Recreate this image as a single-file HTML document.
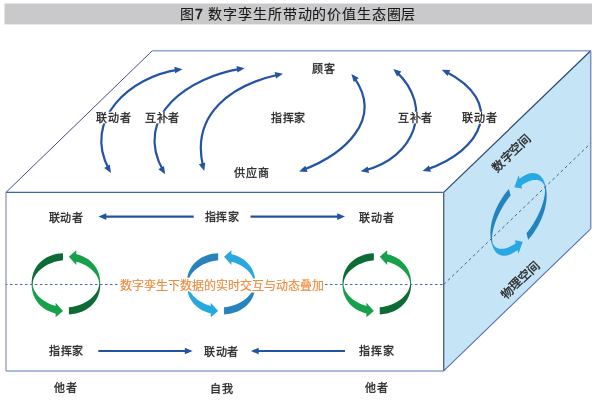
<!DOCTYPE html>
<html lang="zh-CN"><head><meta charset="utf-8"><title>图7</title>
<style>
html,body{margin:0;padding:0;background:#fff;}
body{width:600px;height:401px;overflow:hidden;position:relative;font-family:"Liberation Sans",sans-serif;}
svg{position:absolute;left:0;top:0;display:block;will-change:transform;}
text{font-family:"Liberation Sans",sans-serif;}
</style></head><body>
<svg width="600" height="401" viewBox="0 0 600 401">
<defs><linearGradient id="gg" gradientUnits="userSpaceOnUse" x1="0" y1="-31" x2="0" y2="31"><stop offset="0" stop-color="#0e6b36"/><stop offset="0.5" stop-color="#0e6b36"/><stop offset="0.5" stop-color="#17a04b"/><stop offset="1" stop-color="#17a04b"/></linearGradient><linearGradient id="gb" gradientUnits="userSpaceOnUse" x1="0" y1="-31" x2="0" y2="31"><stop offset="0" stop-color="#2883bc"/><stop offset="0.5" stop-color="#2883bc"/><stop offset="0.5" stop-color="#29a7df"/><stop offset="1" stop-color="#29a7df"/></linearGradient><linearGradient id="gb2" gradientUnits="userSpaceOnUse" x1="0" y1="-31" x2="0" y2="31"><stop offset="0" stop-color="#2383bd"/><stop offset="0.5" stop-color="#2383bd"/><stop offset="0.5" stop-color="#28a8e2"/><stop offset="1" stop-color="#28a8e2"/></linearGradient></defs>
<rect x="4.5" y="3.5" width="587.5" height="20.9" fill="#c9c9cb"/>
<polygon points="443.7,192.4 590.7,50.8 590.7,228.8 443.7,370.9" fill="#c5e4f6"/>
<line x1="6.00" y1="192.40" x2="152.20" y2="50.80" stroke="#3f4f78" stroke-width="1.00"/>
<line x1="152.20" y1="50.80" x2="590.70" y2="50.80" stroke="#8ea6d4" stroke-width="1.50"/>
<line x1="443.70" y1="192.40" x2="590.70" y2="50.80" stroke="#2f4a7e" stroke-width="1.30"/>
<line x1="590.70" y1="50.80" x2="590.70" y2="228.80" stroke="#7d93be" stroke-width="1.50"/>
<line x1="443.70" y1="370.90" x2="590.70" y2="228.80" stroke="#5672ac" stroke-width="1.10"/>
<line x1="6.00" y1="192.40" x2="6.00" y2="370.90" stroke="#a0a6b4" stroke-width="1.50"/>
<line x1="6.00" y1="370.90" x2="443.70" y2="370.90" stroke="#8ea4d4" stroke-width="1.50"/>
<line x1="443.70" y1="192.40" x2="443.70" y2="370.90" stroke="#4f6690" stroke-width="1.40"/>
<line x1="6.00" y1="192.40" x2="443.70" y2="192.40" stroke="#3a64b4" stroke-width="1.30"/>
<path d="M109.00,169.49 C82.25,119.65 129.79,76.91 178.51,69.71" fill="none" stroke="#2553a3" stroke-width="2.20"/><polygon points="182.50,69.20 175.10,73.31 174.39,66.75" fill="#2553a3"/><polygon points="111.00,173.00 104.14,168.03 109.80,164.62" fill="#2553a3"/>
<path d="M163.18,170.84 C132.12,114.74 190.72,76.51 240.72,68.85" fill="none" stroke="#2553a3" stroke-width="2.20"/><polygon points="244.70,68.30 237.36,72.52 236.56,65.97" fill="#2553a3"/><polygon points="165.20,174.30 158.31,169.37 163.94,165.92" fill="#2553a3"/>
<path d="M203.18,166.99 C190.42,113.70 231.73,84.94 279.07,74.52" fill="none" stroke="#2553a3" stroke-width="2.20"/><polygon points="283.00,73.70 275.99,78.45 274.71,71.97" fill="#2553a3"/><polygon points="204.20,170.90 198.90,164.29 205.25,162.50" fill="#2553a3"/>
<path d="M353.81,77.10 C384.75,120.32 342.83,154.60 302.86,170.00" fill="none" stroke="#2553a3" stroke-width="2.20"/><polygon points="299.10,171.40 305.34,165.67 307.56,171.88" fill="#2553a3"/><polygon points="351.40,73.90 358.83,77.97 353.65,82.06" fill="#2553a3"/>
<path d="M396.29,71.59 C434.80,107.81 414.05,158.13 364.62,170.42" fill="none" stroke="#2553a3" stroke-width="2.20"/><polygon points="360.70,171.30 367.69,166.52 369.00,172.99" fill="#2553a3"/><polygon points="393.30,68.90 401.37,71.46 397.08,76.48" fill="#2553a3"/>
<path d="M445.41,71.46 C506.17,102.20 482.59,150.47 426.33,169.66" fill="none" stroke="#2553a3" stroke-width="2.20"/><polygon points="422.50,170.90 428.98,165.44 430.93,171.75" fill="#2553a3"/><polygon points="441.80,69.70 450.26,70.03 447.46,76.00" fill="#2553a3"/>
<line x1="193.70" y1="216.60" x2="102.50" y2="216.60" stroke="#2553a3" stroke-width="2.20"/><polygon points="98.50,216.60 106.30,213.30 106.30,219.90" fill="#2553a3"/>
<line x1="250.50" y1="216.60" x2="341.00" y2="216.60" stroke="#2553a3" stroke-width="2.20"/><polygon points="345.00,216.60 337.20,219.90 337.20,213.30" fill="#2553a3"/>
<line x1="98.30" y1="351.00" x2="188.60" y2="351.00" stroke="#2553a3" stroke-width="2.20"/><polygon points="192.60,351.00 184.80,354.30 184.80,347.70" fill="#2553a3"/>
<line x1="345.00" y1="351.00" x2="254.90" y2="351.00" stroke="#2553a3" stroke-width="2.20"/><polygon points="250.90,351.00 258.70,347.70 258.70,354.30" fill="#2553a3"/>
<g transform="translate(65.95,283.80)"><path d="M-2.95,-30.64 L-6.67,-30.30 L-10.15,-29.69 L-13.44,-28.80 L-16.53,-27.64 L-19.43,-26.22 L-22.12,-24.55 L-24.58,-22.65 L-26.79,-20.52 L-28.75,-18.19 L-30.43,-15.66 L-31.82,-12.95 L-32.92,-10.06 L-33.71,-7.01 L-34.19,-3.77 L-34.36,-0.15 L-34.21,3.57 L-33.75,6.82 L-32.97,9.88 L-31.90,12.78 L-30.52,15.50 L-28.86,18.04 L-26.92,20.39 L-24.72,22.53 L-22.28,24.45 L-19.60,26.13 L-16.71,27.56 L-13.63,28.73 L-10.35,29.64 L-10.35,33.50 L-2.95,27.15 L-10.35,18.85 L-10.35,22.16 L-13.30,21.23 L-16.17,20.10 L-18.91,18.76 L-21.49,17.26 L-23.88,15.59 L-26.04,13.77 L-27.96,11.84 L-29.61,9.82 L-30.97,7.73 L-32.02,5.60 L-32.76,3.48 L-33.18,1.41 L-33.26,-0.42 L-33.01,-2.40 L-32.44,-4.51 L-31.55,-6.64 L-30.34,-8.75 L-28.84,-10.81 L-27.06,-12.80 L-25.02,-14.67 L-22.74,-16.42 L-20.26,-18.01 L-17.60,-19.44 L-14.79,-20.67 L-11.87,-21.71 L-8.89,-22.53 L-5.90,-23.14 L-2.95,-23.51 Z" fill="url(#gg)"/><path d="M-2.95,-30.64 L-6.67,-30.30 L-10.15,-29.69 L-13.44,-28.80 L-16.53,-27.64 L-19.43,-26.22 L-22.12,-24.55 L-24.58,-22.65 L-26.79,-20.52 L-28.75,-18.19 L-30.43,-15.66 L-31.82,-12.95 L-32.92,-10.06 L-33.71,-7.01 L-34.19,-3.77 L-34.36,-0.15 L-34.21,3.57 L-33.75,6.82 L-32.97,9.88 L-31.90,12.78 L-30.52,15.50 L-28.86,18.04 L-26.92,20.39 L-24.72,22.53 L-22.28,24.45 L-19.60,26.13 L-16.71,27.56 L-13.63,28.73 L-10.35,29.64 L-10.35,33.50 L-2.95,27.15 L-10.35,18.85 L-10.35,22.16 L-13.30,21.23 L-16.17,20.10 L-18.91,18.76 L-21.49,17.26 L-23.88,15.59 L-26.04,13.77 L-27.96,11.84 L-29.61,9.82 L-30.97,7.73 L-32.02,5.60 L-32.76,3.48 L-33.18,1.41 L-33.26,-0.42 L-33.01,-2.40 L-32.44,-4.51 L-31.55,-6.64 L-30.34,-8.75 L-28.84,-10.81 L-27.06,-12.80 L-25.02,-14.67 L-22.74,-16.42 L-20.26,-18.01 L-17.60,-19.44 L-14.79,-20.67 L-11.87,-21.71 L-8.89,-22.53 L-5.90,-23.14 L-2.95,-23.51 Z" fill="url(#gg)" transform="rotate(180)"/></g>
<g transform="translate(221.10,283.80)"><path d="M-2.95,-30.64 L-6.67,-30.30 L-10.15,-29.69 L-13.44,-28.80 L-16.53,-27.64 L-19.43,-26.22 L-22.12,-24.55 L-24.58,-22.65 L-26.79,-20.52 L-28.75,-18.19 L-30.43,-15.66 L-31.82,-12.95 L-32.92,-10.06 L-33.71,-7.01 L-34.19,-3.77 L-34.36,-0.15 L-34.21,3.57 L-33.75,6.82 L-32.97,9.88 L-31.90,12.78 L-30.52,15.50 L-28.86,18.04 L-26.92,20.39 L-24.72,22.53 L-22.28,24.45 L-19.60,26.13 L-16.71,27.56 L-13.63,28.73 L-10.35,29.64 L-10.35,33.50 L-2.95,27.15 L-10.35,18.85 L-10.35,22.16 L-13.30,21.23 L-16.17,20.10 L-18.91,18.76 L-21.49,17.26 L-23.88,15.59 L-26.04,13.77 L-27.96,11.84 L-29.61,9.82 L-30.97,7.73 L-32.02,5.60 L-32.76,3.48 L-33.18,1.41 L-33.26,-0.42 L-33.01,-2.40 L-32.44,-4.51 L-31.55,-6.64 L-30.34,-8.75 L-28.84,-10.81 L-27.06,-12.80 L-25.02,-14.67 L-22.74,-16.42 L-20.26,-18.01 L-17.60,-19.44 L-14.79,-20.67 L-11.87,-21.71 L-8.89,-22.53 L-5.90,-23.14 L-2.95,-23.51 Z" fill="url(#gb)"/><path d="M-2.95,-30.64 L-6.67,-30.30 L-10.15,-29.69 L-13.44,-28.80 L-16.53,-27.64 L-19.43,-26.22 L-22.12,-24.55 L-24.58,-22.65 L-26.79,-20.52 L-28.75,-18.19 L-30.43,-15.66 L-31.82,-12.95 L-32.92,-10.06 L-33.71,-7.01 L-34.19,-3.77 L-34.36,-0.15 L-34.21,3.57 L-33.75,6.82 L-32.97,9.88 L-31.90,12.78 L-30.52,15.50 L-28.86,18.04 L-26.92,20.39 L-24.72,22.53 L-22.28,24.45 L-19.60,26.13 L-16.71,27.56 L-13.63,28.73 L-10.35,29.64 L-10.35,33.50 L-2.95,27.15 L-10.35,18.85 L-10.35,22.16 L-13.30,21.23 L-16.17,20.10 L-18.91,18.76 L-21.49,17.26 L-23.88,15.59 L-26.04,13.77 L-27.96,11.84 L-29.61,9.82 L-30.97,7.73 L-32.02,5.60 L-32.76,3.48 L-33.18,1.41 L-33.26,-0.42 L-33.01,-2.40 L-32.44,-4.51 L-31.55,-6.64 L-30.34,-8.75 L-28.84,-10.81 L-27.06,-12.80 L-25.02,-14.67 L-22.74,-16.42 L-20.26,-18.01 L-17.60,-19.44 L-14.79,-20.67 L-11.87,-21.71 L-8.89,-22.53 L-5.90,-23.14 L-2.95,-23.51 Z" fill="url(#gb)" transform="rotate(180)"/></g>
<g transform="translate(376.80,283.80)"><path d="M-2.95,-30.64 L-6.67,-30.30 L-10.15,-29.69 L-13.44,-28.80 L-16.53,-27.64 L-19.43,-26.22 L-22.12,-24.55 L-24.58,-22.65 L-26.79,-20.52 L-28.75,-18.19 L-30.43,-15.66 L-31.82,-12.95 L-32.92,-10.06 L-33.71,-7.01 L-34.19,-3.77 L-34.36,-0.15 L-34.21,3.57 L-33.75,6.82 L-32.97,9.88 L-31.90,12.78 L-30.52,15.50 L-28.86,18.04 L-26.92,20.39 L-24.72,22.53 L-22.28,24.45 L-19.60,26.13 L-16.71,27.56 L-13.63,28.73 L-10.35,29.64 L-10.35,33.50 L-2.95,27.15 L-10.35,18.85 L-10.35,22.16 L-13.30,21.23 L-16.17,20.10 L-18.91,18.76 L-21.49,17.26 L-23.88,15.59 L-26.04,13.77 L-27.96,11.84 L-29.61,9.82 L-30.97,7.73 L-32.02,5.60 L-32.76,3.48 L-33.18,1.41 L-33.26,-0.42 L-33.01,-2.40 L-32.44,-4.51 L-31.55,-6.64 L-30.34,-8.75 L-28.84,-10.81 L-27.06,-12.80 L-25.02,-14.67 L-22.74,-16.42 L-20.26,-18.01 L-17.60,-19.44 L-14.79,-20.67 L-11.87,-21.71 L-8.89,-22.53 L-5.90,-23.14 L-2.95,-23.51 Z" fill="url(#gg)"/><path d="M-2.95,-30.64 L-6.67,-30.30 L-10.15,-29.69 L-13.44,-28.80 L-16.53,-27.64 L-19.43,-26.22 L-22.12,-24.55 L-24.58,-22.65 L-26.79,-20.52 L-28.75,-18.19 L-30.43,-15.66 L-31.82,-12.95 L-32.92,-10.06 L-33.71,-7.01 L-34.19,-3.77 L-34.36,-0.15 L-34.21,3.57 L-33.75,6.82 L-32.97,9.88 L-31.90,12.78 L-30.52,15.50 L-28.86,18.04 L-26.92,20.39 L-24.72,22.53 L-22.28,24.45 L-19.60,26.13 L-16.71,27.56 L-13.63,28.73 L-10.35,29.64 L-10.35,33.50 L-2.95,27.15 L-10.35,18.85 L-10.35,22.16 L-13.30,21.23 L-16.17,20.10 L-18.91,18.76 L-21.49,17.26 L-23.88,15.59 L-26.04,13.77 L-27.96,11.84 L-29.61,9.82 L-30.97,7.73 L-32.02,5.60 L-32.76,3.48 L-33.18,1.41 L-33.26,-0.42 L-33.01,-2.40 L-32.44,-4.51 L-31.55,-6.64 L-30.34,-8.75 L-28.84,-10.81 L-27.06,-12.80 L-25.02,-14.67 L-22.74,-16.42 L-20.26,-18.01 L-17.60,-19.44 L-14.79,-20.67 L-11.87,-21.71 L-8.89,-22.53 L-5.90,-23.14 L-2.95,-23.51 Z" fill="url(#gg)" transform="rotate(180)"/></g>
<g transform="matrix(0.7826,-0.8412,0.2386,0.912,518.54,214.39)"><path d="M-2.95,-30.64 L-6.67,-30.30 L-10.15,-29.69 L-13.44,-28.80 L-16.53,-27.64 L-19.43,-26.22 L-22.12,-24.55 L-24.58,-22.65 L-26.79,-20.52 L-28.75,-18.19 L-30.43,-15.66 L-31.82,-12.95 L-32.92,-10.06 L-33.71,-7.01 L-34.19,-3.77 L-34.36,-0.15 L-34.21,3.57 L-33.75,6.82 L-32.97,9.88 L-31.90,12.78 L-30.52,15.50 L-28.86,18.04 L-26.92,20.39 L-24.72,22.53 L-22.28,24.45 L-19.60,26.13 L-16.71,27.56 L-13.63,28.73 L-10.35,29.64 L-10.35,33.50 L-2.95,27.15 L-10.35,18.85 L-10.35,22.16 L-13.30,21.23 L-16.17,20.10 L-18.91,18.76 L-21.49,17.26 L-23.88,15.59 L-26.04,13.77 L-27.96,11.84 L-29.61,9.82 L-30.97,7.73 L-32.02,5.60 L-32.76,3.48 L-33.18,1.41 L-33.26,-0.42 L-33.01,-2.40 L-32.44,-4.51 L-31.55,-6.64 L-30.34,-8.75 L-28.84,-10.81 L-27.06,-12.80 L-25.02,-14.67 L-22.74,-16.42 L-20.26,-18.01 L-17.60,-19.44 L-14.79,-20.67 L-11.87,-21.71 L-8.89,-22.53 L-5.90,-23.14 L-2.95,-23.51 Z" fill="url(#gb2)"/><path d="M-2.95,-30.64 L-6.67,-30.30 L-10.15,-29.69 L-13.44,-28.80 L-16.53,-27.64 L-19.43,-26.22 L-22.12,-24.55 L-24.58,-22.65 L-26.79,-20.52 L-28.75,-18.19 L-30.43,-15.66 L-31.82,-12.95 L-32.92,-10.06 L-33.71,-7.01 L-34.19,-3.77 L-34.36,-0.15 L-34.21,3.57 L-33.75,6.82 L-32.97,9.88 L-31.90,12.78 L-30.52,15.50 L-28.86,18.04 L-26.92,20.39 L-24.72,22.53 L-22.28,24.45 L-19.60,26.13 L-16.71,27.56 L-13.63,28.73 L-10.35,29.64 L-10.35,33.50 L-2.95,27.15 L-10.35,18.85 L-10.35,22.16 L-13.30,21.23 L-16.17,20.10 L-18.91,18.76 L-21.49,17.26 L-23.88,15.59 L-26.04,13.77 L-27.96,11.84 L-29.61,9.82 L-30.97,7.73 L-32.02,5.60 L-32.76,3.48 L-33.18,1.41 L-33.26,-0.42 L-33.01,-2.40 L-32.44,-4.51 L-31.55,-6.64 L-30.34,-8.75 L-28.84,-10.81 L-27.06,-12.80 L-25.02,-14.67 L-22.74,-16.42 L-20.26,-18.01 L-17.60,-19.44 L-14.79,-20.67 L-11.87,-21.71 L-8.89,-22.53 L-5.90,-23.14 L-2.95,-23.51 Z" fill="url(#gb2)" transform="rotate(180)"/></g>
<line x1="6.00" y1="284.50" x2="443.70" y2="284.50" stroke="#4d68b0" stroke-width="1" stroke-dasharray="2.6 2.4" stroke-dashoffset="1.1"/>
<line x1="443.70" y1="284.50" x2="590.70" y2="143.30" stroke="#4d6282" stroke-width="1" stroke-dasharray="3 2.8"/>
<text x="180.18" y="18.72" font-size="14" fill="#1a1a1a" letter-spacing="0.85" stroke="#1a1a1a" stroke-width="0.12">图<tspan stroke-width="0.6">7</tspan> 数字孪生所带动的价值生态圈层</text>
<text x="312.32" y="72.80" font-size="11" fill="#262626" letter-spacing="0.75" stroke="#262626" stroke-width="0.3">顾客</text>
<rect x="95.45" y="111.70" width="36.10" height="11.70" fill="#fff"/>
<text x="96.35" y="121.77" font-size="11" fill="#262626" letter-spacing="0.75" stroke="#262626" stroke-width="0.3">联动者</text>
<rect x="144.45" y="111.70" width="35.75" height="11.70" fill="#fff"/>
<text x="144.88" y="121.71" font-size="11" fill="#262626" letter-spacing="0.75" stroke="#262626" stroke-width="0.3">互补者</text>
<text x="270.95" y="122.21" font-size="11" fill="#262626" letter-spacing="0.75" stroke="#262626" stroke-width="0.3">指挥家</text>
<text x="234.06" y="176.79" font-size="11" fill="#262626" letter-spacing="0.75" stroke="#262626" stroke-width="0.3">供应商</text>
<rect x="397.30" y="111.70" width="35.90" height="11.70" fill="#fff"/>
<text x="397.85" y="121.71" font-size="11" fill="#262626" letter-spacing="0.75" stroke="#262626" stroke-width="0.3">互补者</text>
<rect x="461.60" y="111.70" width="36.10" height="12.10" fill="#fff"/>
<text x="462.25" y="122.17" font-size="11" fill="#262626" letter-spacing="0.75" stroke="#262626" stroke-width="0.3">联动者</text>
<text x="48.63" y="221.57" font-size="11" fill="#262626" letter-spacing="0.75" stroke="#262626" stroke-width="0.3">联动者</text>
<text x="204.70" y="221.48" font-size="11" fill="#262626" letter-spacing="0.75" stroke="#262626" stroke-width="0.3">指挥家</text>
<text x="359.33" y="221.57" font-size="11" fill="#262626" letter-spacing="0.75" stroke="#262626" stroke-width="0.3">联动者</text>
<text x="48.87" y="355.06" font-size="11" fill="#262626" letter-spacing="0.75" stroke="#262626" stroke-width="0.3">指挥家</text>
<text x="203.75" y="356.17" font-size="11" fill="#262626" letter-spacing="0.75" stroke="#262626" stroke-width="0.3">联动者</text>
<text x="359.35" y="355.06" font-size="11" fill="#262626" letter-spacing="0.75" stroke="#262626" stroke-width="0.3">指挥家</text>
<text x="54.18" y="392.31" font-size="11" fill="#262626" letter-spacing="0.75" stroke="#262626" stroke-width="0.3">他者</text>
<text x="210.21" y="392.54" font-size="11" fill="#262626" letter-spacing="0.75" stroke="#262626" stroke-width="0.3">自我</text>
<text x="365.18" y="392.31" font-size="11" fill="#262626" letter-spacing="0.75" stroke="#262626" stroke-width="0.3">他者</text>
<text x="120.47" y="289.69" font-size="12" fill="#fff" stroke="#fff" stroke-width="3.00" stroke-linejoin="round">数字孪生下数据的实时交互与动态叠加</text>
<text x="120.47" y="289.69" font-size="12" fill="#ee8b3d" stroke="#ee8b3d" stroke-width="0.15">数字孪生下数据的实时交互与动态叠加</text>
<text x="0" y="0" font-size="12" stroke="#262626" stroke-width="0.35" fill="#262626" text-anchor="middle" transform="translate(511.4,152.9) rotate(-43.9) translate(0,4.2)">数字空间</text>
<text x="0" y="0" font-size="12" stroke="#262626" stroke-width="0.35" fill="#262626" text-anchor="middle" transform="translate(520.0,280.0) rotate(-43.9) translate(0,4.2)">物理空间</text>
</svg>
</body></html>
